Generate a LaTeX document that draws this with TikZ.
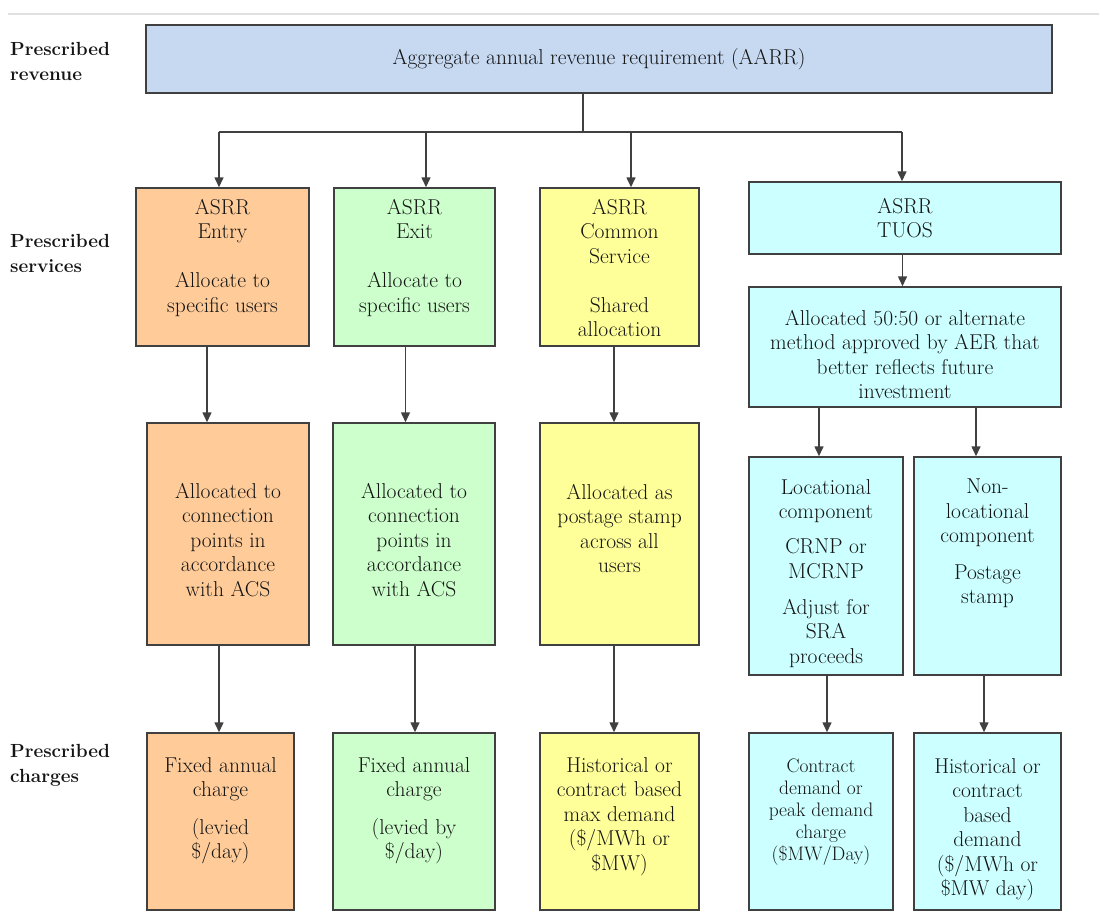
\documentclass[tikz,border=0pt]{standalone}
\usetikzlibrary{arrows.meta}
\definecolor{cBlue}{HTML}{C6D9F1}
\definecolor{cOrange}{HTML}{FFCC99}
\definecolor{cGreen}{HTML}{CCFFCC}
\definecolor{cYellow}{HTML}{FFFF99}
\definecolor{cCyan}{HTML}{CCFFFF}
\definecolor{cLine}{HTML}{404040}
\definecolor{cText}{HTML}{141414}
\begin{document}
\begin{tikzpicture}[x=1pt,y=-1pt,
  box/.style={draw=cLine,line width=1.5pt,inner sep=0pt,anchor=center,
    font=\fontsize{21.5}{24.5}\selectfont,align=center,text=cText},
  txt/.style={font=\fontsize{21.5}{24.5}\selectfont,align=center,inner sep=0pt,anchor=north,text=cText},
  smalltxt/.style={font=\fontsize{19.5}{21.8}\selectfont,align=center,inner sep=0pt,anchor=north,text=cText},
  lbl/.style={font=\fontsize{19}{25}\selectfont\bfseries,align=left,inner sep=0pt,anchor=north west,text=cText},
  arr/.style={draw=cLine,line width=1.5pt,-{Triangle[length=10pt,width=9pt]}},
  conn/.style={draw=cLine,line width=1.5pt}]
\useasboundingbox (0,0) rectangle (1099,919);
\fill[white] (0,0) rectangle (1099,919);
\draw[black!12,line width=1.5pt] (8,14) -- (1099,14);

% left labels
\node[lbl] (lrev) at (10,42) {Prescribed\\revenue};
\node[lbl] (lserv) at (10,234) {Prescribed\\services};
\node[lbl] (lchg) at (10,744) {Prescribed\\charges};

% top
\node[box,fill=cBlue,minimum width=906,minimum height=68] (aarr) at (599,59) {Aggregate annual revenue requirement (AARR)};

% row 2
\node[box,fill=cOrange,minimum width=173,minimum height=158] (entry) at (222.5,267) {};
\node[box,fill=cGreen,minimum width=161,minimum height=158] (exit) at (414.5,267) {};
\node[box,fill=cYellow,minimum width=159,minimum height=158] (common) at (619.5,267) {};
\node[box,fill=cCyan,minimum width=312,minimum height=72] (tuos) at (905,218) {ASRR\\TUOS};
\node[box,fill=cCyan,minimum width=312,minimum height=120] (alloc) at (905,347) {};

\node[txt] (entryT) at (222.5,199) {ASRR\\Entry\\[24.5pt]Allocate to\\specific users};
\node[txt] (exitT) at (414.5,199) {ASRR\\Exit\\[24.5pt]Allocate to\\specific users};
\node[txt] (commonT) at (619.5,199) {ASRR\\Common\\Service\\[24.5pt]Shared\\allocation};
\node[txt] (allocT) at (905,310) {Allocated 50:50 or alternate\\method approved by AER that\\better reflects future\\investment};

% row 3
\node[box,fill=cOrange,minimum width=162,minimum height=222] (entry3) at (228,534) {};
\node[box,fill=cGreen,minimum width=162,minimum height=222] (exit3) at (414,534) {};
\node[box,fill=cYellow,minimum width=159,minimum height=222] (common3) at (619.5,534) {};
\node[box,fill=cCyan,minimum width=154,minimum height=218] (loc) at (826,566) {};
\node[box,fill=cCyan,minimum width=147,minimum height=218] (nonloc) at (987.5,566) {};

\node[txt] (entry3T) at (228,483) {Allocated to\\connection\\points in\\accordance\\with ACS};
\node[txt] (exit3T) at (414,483) {Allocated to\\connection\\points in\\accordance\\with ACS};
\node[txt] (common3T) at (619.5,484) {Allocated as\\postage stamp\\across all\\users};
\node[txt] (locT) at (826,479) {Locational\\component\\[10.5pt]CRNP or\\MCRNP\\[11.5pt]Adjust for\\SRA\\proceeds};
\node[txt] (nonlocT) at (987.5,479) {Non-\\locational\\component\\[12pt]Postage\\stamp};

% row 4
\node[box,fill=cOrange,minimum width=147,minimum height=177] (entry4) at (220.5,821.5) {};
\node[box,fill=cGreen,minimum width=162,minimum height=177] (exit4) at (414,821.5) {};
\node[box,fill=cYellow,minimum width=159,minimum height=177] (common4) at (619.5,821.5) {};
\node[box,fill=cCyan,minimum width=144,minimum height=177] (contract) at (821,821.5) {};
\node[box,fill=cCyan,minimum width=147,minimum height=177] (hist) at (987.5,821.5) {};

\node[txt] (entry4T) at (220.5,757) {Fixed annual\\charge\\[13pt](levied\\\$/day)};
\node[txt] (exit4T) at (414,757) {Fixed annual\\charge\\[13pt](levied by\\\$/day)};
\node[txt] (common4T) at (619.5,757) {Historical or\\contract based\\max demand\\(\$/MWh or\\\$MW)};
\node[smalltxt] (contractT) at (821,759) {Contract\\demand or\\peak demand\\charge\\(\$MW/Day)};
\node[txt] (histT) at (987.5,758) {Historical or\\contract\\based\\demand\\(\$/MWh or\\\$MW day)};

% connectors from top
\coordinate (j) at (583,132);
\draw[conn] ([xshift=-16pt]aarr.south) -- (j);
\draw[conn] ([xshift=-3.5pt]entry.north |- j) -- ([xshift=-3pt]tuos.north |- j);
\draw[arr] ([xshift=-3.5pt]entry.north |- j) -- ([xshift=-3.5pt]entry.north);
\draw[arr] ([xshift=11.5pt]exit.north |- j) -- ([xshift=11.5pt]exit.north);
\draw[arr] ([xshift=11.5pt]common.north |- j) -- ([xshift=11.5pt]common.north);
\draw[arr] ([xshift=-3pt]tuos.north |- j) -- ([xshift=-3pt]tuos.north);

% vertical connectors
\draw[arr] ([xshift=-15.5pt]entry.south) -- ([xshift=-15.5pt]entry.south |- entry3.north);
\draw[arr] ([xshift=-9pt]exit.south) -- ([xshift=-9pt]exit.south |- exit3.north);
\draw[arr] ([xshift=-5.5pt]common.south) -- ([xshift=-5.5pt]common.south |- common3.north);
\draw[arr] ([xshift=-2.5pt]tuos.south) -- ([xshift=-2.5pt]tuos.south |- alloc.north);
\draw[arr] ([xshift=-86pt]alloc.south) -- ([xshift=-86pt]alloc.south |- loc.north);
\draw[arr] ([xshift=71pt]alloc.south) -- ([xshift=71pt]alloc.south |- nonloc.north);

\draw[arr] ([xshift=-9pt]entry3.south) -- ([xshift=-9pt]entry3.south |- entry4.north);
\draw[arr] ([xshift=1pt]exit3.south) -- ([xshift=1pt]exit3.south |- exit4.north);
\draw[arr] ([xshift=-5.5pt]common3.south) -- ([xshift=-5.5pt]common3.south |- common4.north);
\draw[arr] ([xshift=1pt]loc.south) -- ([xshift=1pt]loc.south |- contract.north);
\draw[arr] ([xshift=-3.5pt]nonloc.south) -- ([xshift=-3.5pt]nonloc.south |- hist.north);
\end{tikzpicture}
\end{document}
